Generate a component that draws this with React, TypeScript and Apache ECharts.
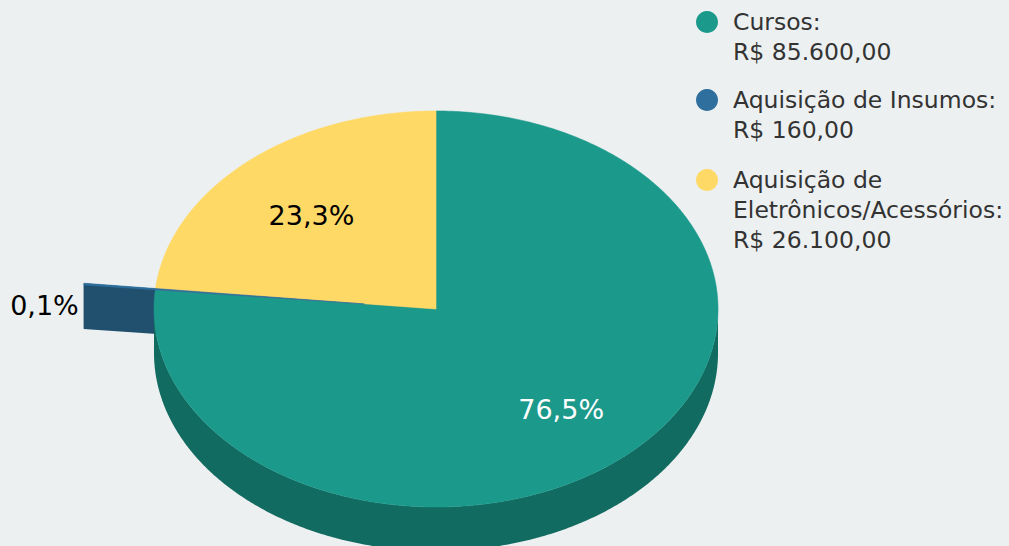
import React, { useEffect, useRef } from 'react';
import * as echarts from 'echarts';

// ---- data ----
const categories = ['Cursos', 'Aquisição de Insumos', 'Aquisição de Eletrônicos/Acessórios'];
const legendLabels = ['Cursos:', 'Aquisição de Insumos:', 'Aquisição de\nEletrônicos/Acessórios:'];
const values = [85600, 160, 26100];
const sliced = [false, true, false];

// ---- style ----
const topColors = ['#1B998B', '#2E6F9E', '#FFD966'];
const sideColors = ['#116B60', '#214F6E', '#B39849'];
const labelColors = ['#FFFFFF', '#000000', '#000000'];
const legendIconY = [22, 100, 180];

const CX = 436;
const CY = 309;
const RX = 282;
const RY = 198;
const DEPTH = 44;
const SLICE_OFFSET = 72;
const LINE_H = 30;
const LABEL_DY = 4;
const FONT = "'DejaVu Sans', Verdana, sans-serif";

const total = values.reduce((a, b) => a + b, 0);

function brl(v: number): string {
  const [i, d] = v.toFixed(2).split('.');
  return 'R$ ' + i.replace(/\B(?=(\d{3})+(?!\d))/g, '.') + ',' + d;
}

function pct(v: number): string {
  return ((v / total) * 100).toFixed(1).replace('.', ',') + '%';
}

function makeRender(i: number) {
  return (params: any, api: any) => {
    const v = api.value(0) as number;
    const before = values.slice(0, i).reduce((a, b) => a + b, 0);
    const a0 = (before / total) * Math.PI * 2;
    const a1 = a0 + (v / total) * Math.PI * 2;
    const mid = (a0 + a1) / 2;
    const ox = sliced[i] ? SLICE_OFFSET * Math.sin(mid) : 0;
    const oy = sliced[i] ? (-SLICE_OFFSET * Math.cos(mid) * RY) / RX : 0;
    const pt = (phi: number, r: number, down: number) => [
      CX + ox + RX * r * Math.sin(phi),
      CY + oy - RY * r * Math.cos(phi) + down,
    ];
    const arc = (from: number, to: number, down: number) => {
      const n = Math.max(2, Math.ceil((to - from) / (Math.PI / 360)));
      const pts: number[][] = [];
      for (let k = 0; k <= n; k++) pts.push(pt(from + ((to - from) * k) / n, 1, down));
      return pts;
    };
    const children: any[] = [];
    // radial walls
    [a0, a1].forEach((a) => {
      children.push({
        type: 'polygon',
        z2: 1,
        shape: { points: [pt(a, 0, 0), pt(a, 1, 0), pt(a, 1, DEPTH), pt(a, 0, DEPTH)] },
        style: { fill: sideColors[i] },
      });
    });
    // outer (front-facing) wall
    const lo = Math.max(a0, Math.PI / 2);
    const hi = Math.min(a1, (Math.PI * 3) / 2);
    if (hi > lo) {
      const pts = arc(lo, hi, 0).concat(arc(lo, hi, DEPTH).reverse());
      children.push({
        type: 'polygon',
        z2: 2,
        shape: { points: pts },
        style: { fill: sideColors[i] },
      });
    }
    // top face
    children.push({
      type: 'polygon',
      z2: sliced[i] ? 4 : 3,
      shape: { points: [pt(0, 0, 0)].concat(arc(a0, a1, 0)) },
      style: { fill: topColors[i], stroke: topColors[i], lineWidth: 0.6 },
    });
    // data label
    const share = v / total;
    let lx: number, ly: number, align: string;
    if (share < 0.05) {
      const p = pt(mid, 1, 0);
      align = Math.sin(mid) < 0 ? 'right' : 'left';
      lx = p[0] + (Math.sin(mid) < 0 ? -5 : 5);
      ly = p[1] + DEPTH * 0.43 + 2;
    } else {
      const p = pt(mid, 0.66, 0);
      lx = p[0];
      ly = p[1] + LABEL_DY;
      align = 'center';
    }
    children.push({
      type: 'text',
      z2: 10,
      x: lx,
      y: ly,
      style: {
        text: pct(v),
        fill: labelColors[i],
        fontSize: 27,
        fontFamily: FONT,
        align,
        verticalAlign: 'middle',
      },
    });
    return { type: 'group', children };
  };
}

export default function App() {
  const ref = useRef<HTMLDivElement>(null);
  useEffect(() => {
    document.body.style.margin = '0';
    const chart = echarts.init(ref.current as HTMLDivElement, undefined, { renderer: 'svg' });
    const option: any = {
      animation: false,
      backgroundColor: '#ECF0F1',
      color: topColors,
      legend: categories.map((name, i) => {
        const n = legendLabels[i].split('\n').length + 1;
        return {
          data: [name],
          orient: 'vertical',
          left: 696,
          top: legendIconY[i] - ((2 * n - 1) * LINE_H) / 2,
          padding: 0,
          itemWidth: 42,
          itemHeight: 22,
          icon: 'circle',
          selectedMode: false,
          // leading blank lines keep the first text line level with the icon
          formatter: () => '\n'.repeat(n - 1) + legendLabels[i] + '\n' + brl(values[i]),
          textStyle: { fontSize: 23.5, fontFamily: FONT, color: '#333333', lineHeight: LINE_H },
        };
      }),
      series: categories.map((name, i) => ({
        type: 'custom',
        name,
        coordinateSystem: 'none',
        silent: true,
        itemStyle: { color: topColors[i] },
        data: [[values[i]]],
        renderItem: makeRender(i),
      })),
    };
    chart.setOption(option);
    return () => chart.dispose();
  }, []);
  return (
    <div
      ref={ref}
      style={{ position: 'absolute', left: 0, top: 0, width: 1009, height: 546 }}
    />
  );
}
